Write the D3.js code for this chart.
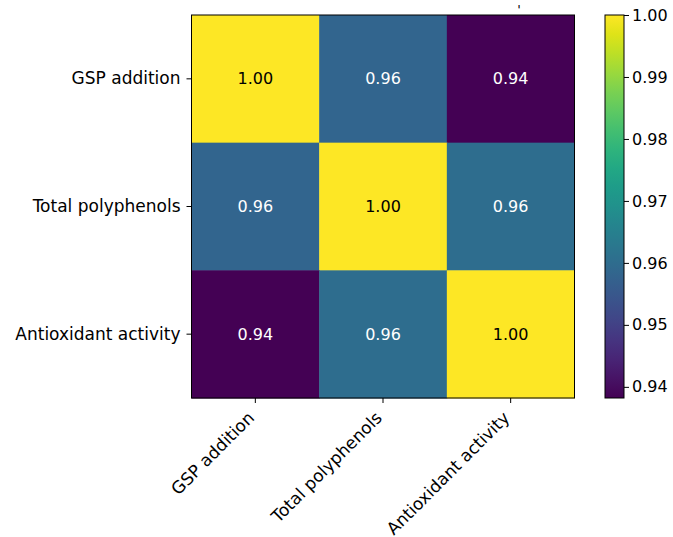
<!DOCTYPE html>
<html>
<head>
<meta charset="utf-8">
<script src="https://cdn.jsdelivr.net/npm/d3@7"></script>
<style>
  html, body { margin: 0; padding: 0; background: #fff; }
  text { font-family: "DejaVu Sans", sans-serif; }
</style>
</head>
<body>
<svg id="chart" width="673" height="537"></svg>
<script>
// Variables of the correlation matrix
const variables = ["GSP addition", "Total polyphenols", "Antioxidant activity"];
// Correlation rows (row i, column j)
const rowGSP = [1.00, 0.958, 0.9382];
const rowPolyphenols = [0.958, 1.00, 0.960];
const rowAntioxidant = [0.9382, 0.960, 1.00];
const matrix = [rowGSP, rowPolyphenols, rowAntioxidant];
// Colour bar ticks
const colorbarTicks = [0.94, 0.95, 0.96, 0.97, 0.98, 0.99, 1.00];

const svg = d3.select("#chart");
const labelSize = 17;
const valueSize = 16;
const cbSize = 16;

const plotLeft = 191.5, plotTop = 15, plotSize = 383;
const cbLeft = 605, cbWidth = 19;

const cells = [];
matrix.forEach((row, i) => row.forEach((v, j) => cells.push({ i, j, v })));
const vmin = d3.min(cells, d => d.v);
const vmax = d3.max(cells, d => d.v);

const x = d3.scaleBand().domain(d3.range(variables.length)).range([plotLeft, plotLeft + plotSize]);
const y = d3.scaleBand().domain(d3.range(variables.length)).range([plotTop, plotTop + plotSize]);
const color = d3.scaleSequential(d3.interpolateViridis).domain([vmin, vmax]);

// Heatmap cells
svg.append("g").selectAll("rect").data(cells).join("rect")
  .attr("x", d => x(d.j))
  .attr("y", d => y(d.i))
  .attr("width", x.bandwidth() + 0.5)
  .attr("height", y.bandwidth() + 0.5)
  .attr("fill", d => color(d.v));

// Cell annotations
svg.append("g").selectAll("text").data(cells).join("text")
  .attr("x", d => x(d.j) + x.bandwidth() / 2)
  .attr("y", d => y(d.i) + y.bandwidth() / 2)
  .attr("text-anchor", "middle")
  .attr("dominant-baseline", "central")
  .attr("font-size", valueSize)
  .attr("fill", d => d.v > 0.99 ? "#000" : "#fff")
  .text(d => d.v.toFixed(2));

// Frame
svg.append("rect")
  .attr("x", plotLeft).attr("y", plotTop).attr("width", plotSize).attr("height", plotSize)
  .attr("fill", "none").attr("stroke", "#000").attr("stroke-width", 1);

// Axes
const xAxis = d3.axisBottom(x).tickSize(5).tickFormat(i => variables[i]);
const gx = svg.append("g").attr("transform", `translate(0,${plotTop + plotSize})`).call(xAxis);
gx.select(".domain").remove();
gx.selectAll(".tick line").attr("stroke", "#000");
gx.selectAll(".tick text")
  .attr("font-size", labelSize)
  .attr("fill", "#000")
  .attr("text-anchor", "end")
  .attr("x", 0).attr("y", 0).attr("dy", 0)
  .attr("transform", "translate(0,21) rotate(-45)");

const yAxis = d3.axisLeft(y).tickSize(5).tickPadding(6).tickFormat(i => variables[i]);
const gy = svg.append("g").attr("transform", `translate(${plotLeft},0)`).call(yAxis);
gy.select(".domain").remove();
gy.selectAll(".tick line").attr("stroke", "#000");
gy.selectAll(".tick text").attr("font-size", labelSize).attr("fill", "#000");

// Colour bar
const cb = d3.scaleLinear().domain([vmin, vmax]).range([plotTop + plotSize, plotTop]);
const defs = svg.append("defs");
const grad = defs.append("linearGradient").attr("id", "cbgrad")
  .attr("x1", 0).attr("y1", 1).attr("x2", 0).attr("y2", 0);
d3.range(0, 1.0001, 0.05).forEach(t => {
  grad.append("stop").attr("offset", t).attr("stop-color", d3.interpolateViridis(t));
});
svg.append("rect")
  .attr("x", cbLeft).attr("y", plotTop).attr("width", cbWidth).attr("height", plotSize)
  .attr("fill", "url(#cbgrad)").attr("stroke", "#000").attr("stroke-width", 1);

const cbAxis = d3.axisRight(cb).tickValues(colorbarTicks).tickSize(5).tickPadding(3).tickFormat(d3.format(".2f"));
const gcb = svg.append("g").attr("transform", `translate(${cbLeft + cbWidth},0)`).call(cbAxis);
gcb.select(".domain").remove();
gcb.selectAll(".tick line").attr("stroke", "#000");
gcb.selectAll(".tick text").attr("font-size", cbSize).attr("fill", "#000");

// Small title mark above the matrix
svg.append("text")
  .attr("x", 519).attr("y", 14)
  .attr("text-anchor", "middle")
  .attr("font-size", 13)
  .attr("fill", "#000")
  .text("'");
</script>
</body>
</html>
